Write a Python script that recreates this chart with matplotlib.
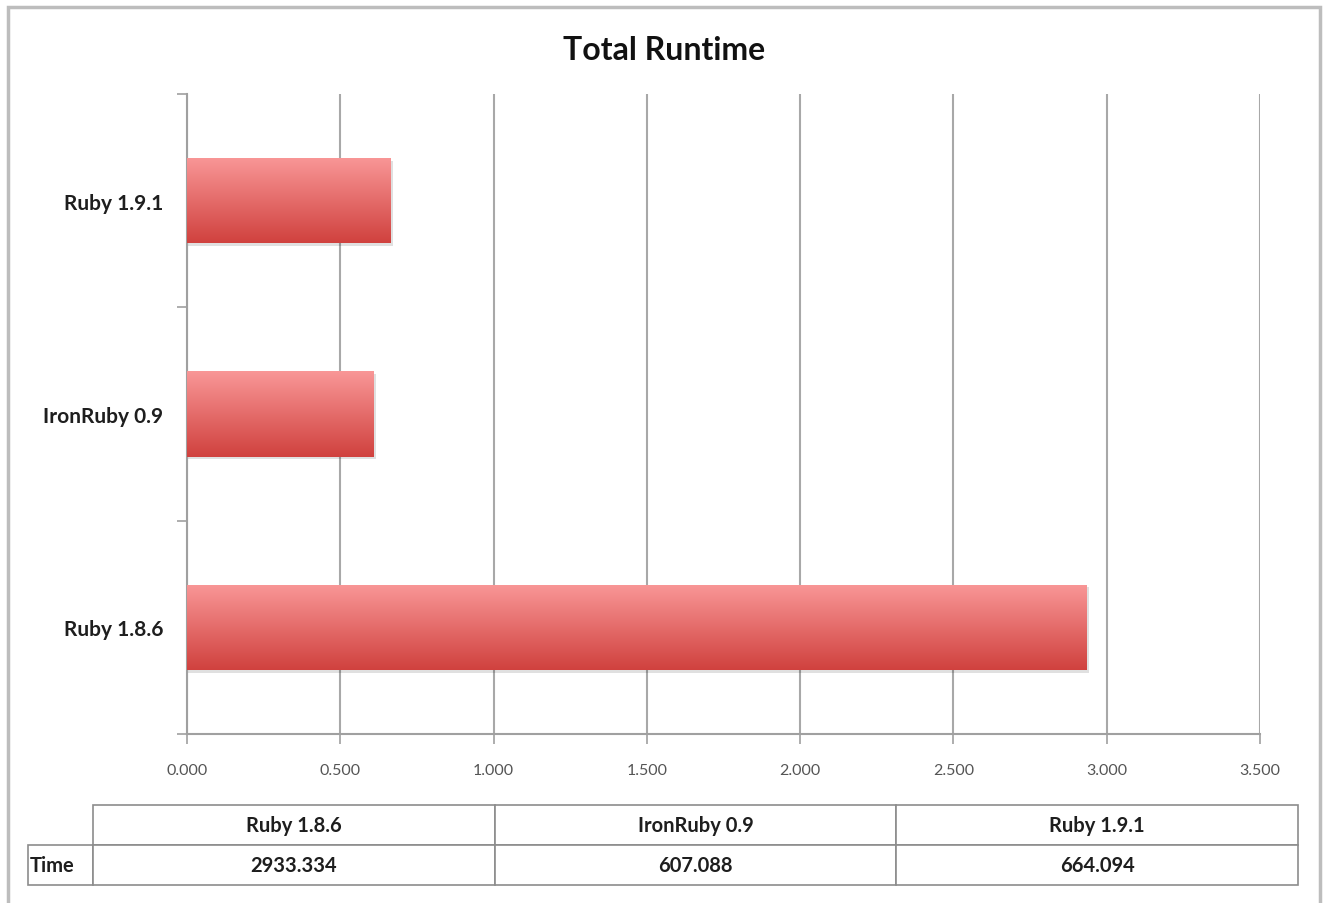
import numpy as np
import matplotlib
matplotlib.use('Agg')
import matplotlib.pyplot as plt
from matplotlib.colors import LinearSegmentedColormap
from matplotlib.patches import Rectangle
from matplotlib.ticker import FixedLocator, FuncFormatter

# data
categories = ['Ruby 1.8.6', 'IronRuby 0.9', 'Ruby 1.9.1']
times = [2933.334, 607.088, 664.094]
row_label = 'Time'
x_ticks = [0, 500, 1000, 1500, 2000, 2500, 3000, 3500]

plt.rcParams['font.family'] = ['Lato', 'DejaVu Sans']

fig = plt.figure(figsize=(13.28, 9.04), dpi=100)
fig.patch.set_facecolor('white')

# grey outer frame
fig.patches.append(Rectangle((8 / 1328, -0.02), 1312 / 1328, 1 - 8 / 904 + 0.02,
                             transform=fig.transFigure, fill=False,
                             edgecolor='#BDBDBD', linewidth=2.5))

ax = fig.add_axes([187 / 1328, 1 - 735 / 904, 1073 / 1328, 640 / 904])

y = np.arange(len(categories))
bars = ax.barh(y, times, height=0.4, color='#E06060', edgecolor='none', zorder=3)

# vertical gradient fill for each bar
grad = LinearSegmentedColormap.from_list('bar', ['#D0413E', '#F99797'])
g = np.linspace(0, 1, 256).reshape(-1, 1)
for b in bars:
    x0, y0 = b.get_x(), b.get_y()
    w, h = b.get_width(), b.get_height()
    # soft shadow
    ax.add_patch(Rectangle((x0, y0 - 0.012), w + 8, h, facecolor='#000000',
                           alpha=0.12, edgecolor='none', zorder=2))
    im = ax.imshow(g, cmap=grad, extent=[x0, x0 + w, y0, y0 + h],
                   aspect='auto', origin='lower', zorder=4)
    im.set_clip_path(b)

ax.set_xlim(0, 3500)
ax.set_ylim(-0.5, len(categories) - 0.5)

ax.xaxis.set_major_locator(FixedLocator(x_ticks))
ax.xaxis.set_major_formatter(FuncFormatter(lambda v, p: '{:.3f}'.format(v / 1000)))
ax.tick_params(axis='x', length=7, width=1.2, color='#A0A0A0', pad=14,
               labelsize=11.5, labelcolor='#555555')

ax.set_yticks(y)
ax.set_yticklabels(categories, fontsize=15, fontweight='bold', color='#1E1E1E')
ax.set_yticks(np.arange(-0.5, len(categories)), minor=True)
ax.tick_params(axis='y', which='major', length=0, pad=17)
ax.tick_params(axis='y', which='minor', length=7, width=1.2, color='#A0A0A0')

ax.grid(axis='x', color='#A8A8A8', linewidth=1.5, zorder=0)
ax.set_axisbelow(True)
for side in ['top', 'right']:
    ax.spines[side].set_visible(False)
for side in ['left', 'bottom']:
    ax.spines[side].set_color('#A0A0A0')
    ax.spines[side].set_linewidth(1.5)

fig.text(0.5, 1 - 50 / 904, 'Total Runtime', ha='center', va='center',
         fontsize=23, fontweight='bold', color='#111111')

# data table below the axis (bbox covers the value columns only)
cell_text = [['{:.3f}'.format(t) for t in times]]
col_w = 402 / 1073
tbl = ax.table(cellText=cell_text, rowLabels=[row_label], colLabels=categories,
               colWidths=[col_w] * len(categories),
               cellLoc='center', rowLoc='left',
               bbox=[(93 - 187) / 1073, (735 - 886) / 640, 1205 / 1073, 80 / 640])
tbl._autoColumns = []
tbl[1, -1].set_width(65 / 1073)
tbl.auto_set_font_size(False)
for (r, c), cell in tbl.get_celld().items():
    cell.set_edgecolor('#8C8C8C')
    cell.set_linewidth(1.2)
    cell.get_text().set_fontsize(14.5)
    cell.get_text().set_fontweight('bold')
    cell.get_text().set_color('#1E1E1E')
    cell.PAD = 0.02

fig.savefig('out.png', dpi=100)
